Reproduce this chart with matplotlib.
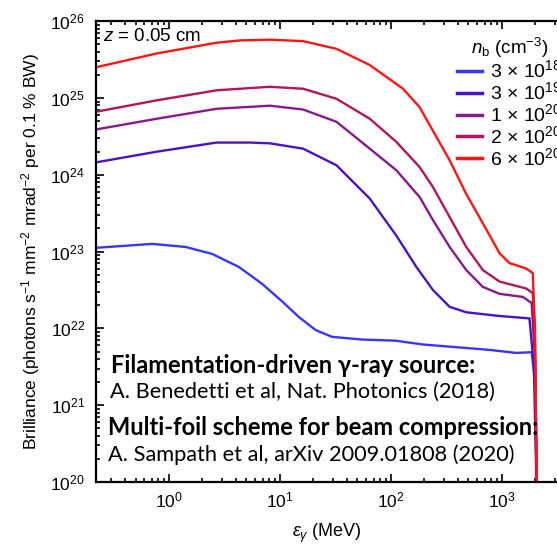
import matplotlib
matplotlib.use("Agg")
import matplotlib.pyplot as plt

plt.rcParams['font.family'] = ['Liberation Sans', 'DejaVu Sans']
plt.rcParams['mathtext.fontset'] = 'custom'
plt.rcParams['mathtext.rm'] = 'Liberation Sans'
plt.rcParams['mathtext.it'] = 'Liberation Sans:italic'

# photon energy (MeV) and brilliance
e_3e18 = [0.219, 0.708, 1.41, 2.45, 4.27, 6.92, 10.5, 14.8, 20.9, 29.5, 55, 110, 195, 776, 1349, 1862, 1995, 2090]
b_3e18 = [1.12e23, 1.26e23, 1.15e23, 9.33e22, 6.31e22, 3.80e22, 2.24e22, 1.41e22, 9.55e21, 7.76e21,
          7.16e21, 6.92e21, 6.17e21, 5.25e21, 4.79e21, 4.90e21, 2e21, 3.2e19]

e_3e19 = [0.219, 0.776, 2.69, 5.37, 8.13, 16.2, 32.4, 64.6, 112, 170, 240, 339, 479, 955, 1778, 1950, 2090]
b_3e19 = [1.45e24, 2.0e24, 2.63e24, 2.63e24, 2.57e24, 2.19e24, 1.33e24, 4.90e23, 1.62e23, 6.31e22,
          3.16e22, 1.91e22, 1.62e22, 1.45e22, 1.35e22, 3.2e21, 3.2e19]

e_1e20 = [0.219, 0.776, 2.69, 8.13, 16.2, 32.4, 64.6, 112, 182, 240, 339, 479, 676, 955, 1549, 1862, 1995, 2090]
b_1e20 = [3.89e24, 5.37e24, 7.24e24, 7.94e24, 7.08e24, 4.90e24, 2.19e24, 1.15e24, 5.13e23, 2.57e23,
          1.15e23, 5.75e22, 3.47e22, 2.82e22, 2.57e22, 2.14e22, 4e21, 3.2e19]

e_2e20 = [0.219, 0.776, 2.69, 8.13, 16.2, 32.4, 64.6, 112, 182, 240, 339, 479, 676, 955, 1660, 1905, 1995, 2090]
b_2e20 = [6.61e24, 9.33e24, 1.26e25, 1.40e25, 1.32e25, 9.77e24, 5.37e24, 2.69e24, 1.26e24, 6.92e23,
          2.82e23, 1.15e23, 5.75e22, 4.07e22, 3.31e22, 2.88e22, 6.3e21, 3.2e19]

e_6e20 = [0.219, 0.776, 2.69, 4.37, 8.13, 16.2, 32.4, 64.6, 129, 182, 339, 479, 676, 955, 1175, 1660, 1905, 1995, 2090]
b_6e20 = [2.51e25, 3.80e25, 5.25e25, 5.62e25, 5.75e25, 5.50e25, 4.37e25, 2.69e25, 1.32e25, 7.59e24,
          1.55e24, 5.62e23, 2.34e23, 9.55e22, 7.08e22, 6.03e22, 5.25e22, 1e22, 3.2e19]

labels = ['3 × 10$^{18}$', '3 × 10$^{19}$', '1 × 10$^{20}$', '2 × 10$^{20}$', '6 × 10$^{20}$']
colors = ['#3636ff', '#4a12c4', '#861a8c', '#b3155c', '#ff1414']

fig = plt.figure(figsize=(5.57, 5.44), dpi=100)
ax = fig.add_axes([0.1724, 0.114, 0.8276, 0.847])

series = [(e_3e18, b_3e18), (e_3e19, b_3e19), (e_1e20, b_1e20), (e_2e20, b_2e20), (e_6e20, b_6e20)]
for (e, b), lab, c in zip(series, labels, colors):
    ax.plot(e, b, color=c, lw=1.7, label=lab)

ax.set_xscale('log')
ax.set_yscale('log')
ax.set_xlim(0.22, 3150)
ax.set_ylim(1e20, 1e26)

for s in ax.spines.values():
    s.set_linewidth(1.6)
ax.spines['right'].set_visible(False)
ax.tick_params(which='both', direction='in', top=True, right=False, labelsize=12.5, width=1.2)
ax.tick_params(which='major', length=6)
ax.tick_params(axis='x', which='major', pad=6)
ax.tick_params(axis='y', which='major', pad=8)
ax.tick_params(which='minor', length=3)

ax.set_xlabel(r'$\varepsilon_\gamma$ (MeV)', fontsize=13, labelpad=8)
ax.set_ylabel(r'Brilliance (photons s$^{-1}$ mm$^{-2}$ mrad$^{-2}$ per 0.1 % BW)', fontsize=12.5, labelpad=6)

ax.text(0.015, 0.985, r'$z$ = 0.05 cm', transform=ax.transAxes, fontsize=13.5, va='top')

leg = ax.legend(loc='upper left', bbox_to_anchor=(0.762, 0.99), frameon=False,
                title=r'$n_{\rm b}$ (cm$^{-3}$)', fontsize=14, title_fontsize=13.5,
                handlelength=1.3, handletextpad=0.4, labelspacing=0.0, borderpad=0)
for line in leg.get_lines():
    line.set_linewidth(2.5)

fnt = ['Lato', 'DejaVu Sans']
ax.text(0.032, 0.253, 'Filamentation-driven γ-ray source:', transform=ax.transAxes,
        fontsize=17, fontweight='bold', family=fnt, va='center')
ax.text(0.030, 0.196, 'A. Benedetti et al, Nat. Photonics (2018)', transform=ax.transAxes,
        fontsize=15.7, family=fnt, va='center')
ax.text(0.026, 0.118, 'Multi-foil scheme for beam compression:', transform=ax.transAxes,
        fontsize=17, fontweight='bold', family=fnt, va='center')
ax.text(0.026, 0.059, 'A. Sampath et al, arXiv 2009.01808 (2020)', transform=ax.transAxes,
        fontsize=15.7, family=fnt, va='center')

fig.savefig('out.png', dpi=100)
